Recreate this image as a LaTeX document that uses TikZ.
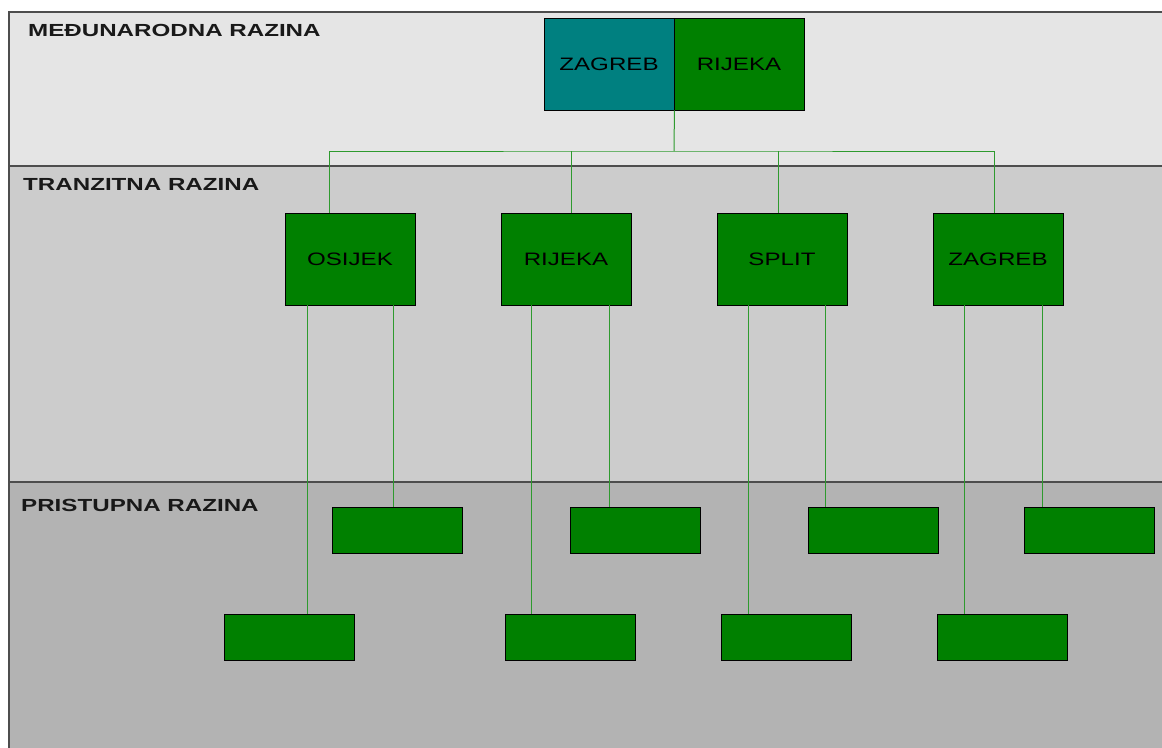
\documentclass[tikz,border=0pt]{standalone}
\usepackage{fontspec}
\usepackage{graphicx}
\setmainfont{Liberation Sans}
\definecolor{bandA}{HTML}{E5E5E5}
\definecolor{bandB}{HTML}{CCCCCC}
\definecolor{bandC}{HTML}{B3B3B3}
\definecolor{frameC}{HTML}{4D4D4D}
\definecolor{boxG}{HTML}{008000}
\definecolor{boxT}{HTML}{008080}
\definecolor{connC}{HTML}{2E9A2E}
\newcommand\wtxt[1]{\scalebox{1.34}[1]{#1}}
\newcommand\wlbl[1]{\scalebox{1.38}[1]{#1}}
\tikzset{
  bigbox/.style={draw=black, line width=0.9pt, fill=boxG, minimum width=130pt, minimum height=92pt, inner sep=0pt, font=\fontsize{18}{20}\selectfont, text=black},
  smallbox/.style={draw=black, line width=0.9pt, fill=boxG, minimum width=130pt, minimum height=46pt, inner sep=0pt},
  lvl/.style={anchor=base west, inner sep=0pt, font=\bfseries\fontsize{17.5}{20}\selectfont, text=black!90},
  conn/.style={draw=connC, line width=1pt},
  bandline/.style={draw=frameC, line width=1.3pt}
}
\begin{document}
\begin{tikzpicture}[x=1pt,y=-1pt]
\useasboundingbox (0,0) rectangle (1162,747);
\clip (0,0) rectangle (1162,747);
% bands
\fill[bandA] (9,12) rectangle (1170,166);
\fill[bandB] (9,166) rectangle (1170,482);
\fill[bandC] (9,482) rectangle (1170,760);
\draw[bandline] (9,760) -- (9,12) -- (1170,12);
\draw[bandline] (9,166) -- (1170,166);
\draw[bandline] (9,482) -- (1170,482);
% level labels
\node[lvl] (l1) at (28,36) {\wlbl{MEĐUNARODNA RAZINA}};
\node[lvl] (l2) at (23,190) {\wlbl{TRANZITNA RAZINA}};
\node[lvl] (l3) at (21,511) {\wlbl{PRISTUPNA RAZINA}};
% top level
\node[bigbox, fill=boxT] (zg) at (609,64) {\wtxt{ZAGREB}};
\node[bigbox] (ri) at (739,64) {\wtxt{RIJEKA}};
% transit level
\node[bigbox] (t1) at (350,259) {\wtxt{OSIJEK}};
\node[bigbox] (t2) at (566,259) {\wtxt{RIJEKA}};
\node[bigbox] (t3) at (782,259) {\wtxt{SPLIT}};
\node[bigbox] (t4) at (998,259) {\wtxt{ZAGREB}};
% access level row 1
\node[smallbox] (u1) at (397,530) {};
\node[smallbox] (u2) at (635,530) {};
\node[smallbox] (u3) at (873,530) {};
\node[smallbox] (u4) at (1089,530) {};
% access level row 2
\node[smallbox] (d1) at (289,637.5) {};
\node[smallbox] (d2) at (570,637.5) {};
\node[smallbox] (d3) at (786,637.5) {};
\node[smallbox] (d4) at (1002,637.5) {};
% connectors top
\coordinate (bus) at (674,151);
\draw[conn] (zg.south east) -- (bus);
\draw[conn] ([xshift=-21pt]t1.north) |- (bus) -| ([xshift=-4pt]t4.north);
\draw[conn] ([xshift=5pt]t2.north) -- ([xshift=5pt]t2.north |- bus);
\draw[conn] ([xshift=-4pt]t3.north) -- ([xshift=-4pt]t3.north |- bus);
% connectors lower
\draw[conn] ([xshift=-43pt]t1.south) -- ([xshift=-43pt]t1.south |- d1.north);
\draw[conn] ([xshift=43pt]t1.south) -- ([xshift=43pt]t1.south |- u1.north);
\draw[conn] ([xshift=-35pt]t2.south) -- ([xshift=-35pt]t2.south |- d2.north);
\draw[conn] ([xshift=43pt]t2.south) -- ([xshift=43pt]t2.south |- u2.north);
\draw[conn] ([xshift=-34pt]t3.south) -- ([xshift=-34pt]t3.south |- d3.north);
\draw[conn] ([xshift=43pt]t3.south) -- ([xshift=43pt]t3.south |- u3.north);
\draw[conn] ([xshift=-34pt]t4.south) -- ([xshift=-34pt]t4.south |- d4.north);
\draw[conn] ([xshift=44pt]t4.south) -- ([xshift=44pt]t4.south |- u4.north);
\end{tikzpicture}
\end{document}
